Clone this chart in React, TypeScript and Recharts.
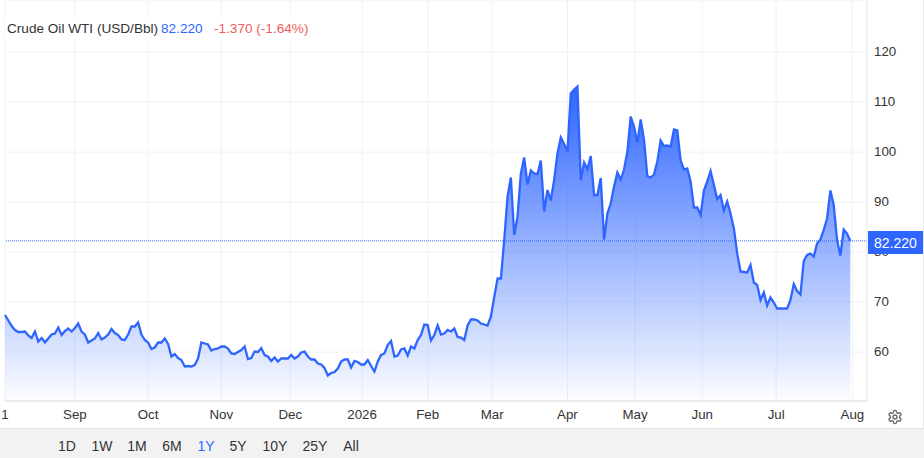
import React from "react";
import { ComposedChart, Area, XAxis, YAxis, CartesianGrid, ReferenceLine } from "recharts";

const prices2025 = [
  67.4,66.3,65.2,64.4,64.0,64.0,64.1,63.3,62.8,64.1,62.1,62.8,61.9,62.7,63.5,63.7,64.9,63.4,64.2,64.7,64.1,64.8,65.7,64.1,63.5,61.9,62.3,62.7,63.8,62.5,62.9,63.5,64.6,63.8,63.4,62.5,62.4,63.5,65.1,65.1,65.9,63.5,62.4,61.9,60.6,60.9,61.9,61.9,62.7,61.6,59.1,59.6,58.8,58.4,57.1,57.2,57.1,57.4,58.7,61.9,61.7,61.5,60.3,60.6,60.7,61.1,61.1,60.7,59.7,59.6,60.0,60.4,61.1,58.6,58.8,60.1,60.0,60.8,59.4,59.1,58.2,58.9,58.1,58.7,58.7,58.7,59.4,58.7,59.1,59.9,60.1,59.1,58.5,58.5,57.7,57.5,56.8,55.3,55.8,56.0,56.7,58.1,58.5,58.5,56.9,58.2,58.0,57.5,57.5,58.4,57.2,56.1,
];
const pricesEarly2026 = [
  58.1,59.4,59.7,61.4,62.2,59.1,59.3,60.5,60.7,59.3,61.1,60.7,62.4,63.4,65.5,65.4,62.3,63.4,65.3,63.5,63.7,64.4,64.1,64.7,63.0,62.9,62.4,65.3,66.5,66.5,66.3,65.7,65.5,65.3,67.1,71.0,74.7,74.7,
];
const pricesSpring2026 = [
  82.4,91.1,94.9,83.4,87.1,95.7,98.9,93.5,96.3,95.7,95.6,98.3,88.1,92.4,90.3,94.4,99.7,102.9,101.6,100.1,111.7,112.5,113.1,94.4,97.9,96.6,99.2,91.4,91.4,94.8,82.5,87.7,89.7,93.1,95.9,94.5,96.5,100.1,107.1,105.1,101.9,106.5,102.4,95.2,94.9,95.5,98.1,102.3,101.2,101.3,101.1,104.5,104.3,98.3,96.5,96.7,
];
const pricesSummer2026 = [
  94.1,88.9,88.9,87.4,92.3,94.1,96.2,93.4,90.6,91.4,88.3,90.1,87.7,84.7,79.7,76.1,76.0,75.9,77.4,73.9,73.4,70.4,71.9,69.3,70.9,69.9,68.7,68.7,68.7,68.7,70.4,73.6,72.2,71.5,78.2,79.4,79.7,79.1,81.7,82.5,84.4,86.7,92.3,89.4,82.4,79.3,84.5,83.7,82.22,
];
const prices = [...prices2025, ...pricesEarly2026, ...pricesSpring2026, ...pricesSummer2026];
const tableData = prices.map((price, i) => ({ i, price }));

const xTickLabels = ["1", "Sep", "Oct", "Nov", "Dec", "2026", "Feb", "Mar", "Apr", "May", "Jun", "Jul", "Aug"];
const xTickIndex = [0, 21, 43, 65, 85.7, 107.3, 127, 146.4, 169, 189.3, 209.5, 231.7, 254.6];
const yTicks = [60, 70, 80, 90, 100, 110, 120];
const ranges = ["1D", "1W", "1M", "6M", "1Y", "5Y", "10Y", "25Y", "All"];
const rangeCenters = [67, 102, 137, 172, 206, 238, 275, 315, 351];
const lastPrice = 82.22;

const FONT = '"Liberation Sans", Arial, sans-serif';
const BLUE = "#2e65ff";

export default function App() {
  return (
    <div style={{ position: "absolute", left: 0, top: 0, width: 924, height: 458, background: "#fff", overflow: "hidden", fontFamily: FONT }}>
      <ComposedChart
        width={924}
        height={458}
        data={tableData}
        margin={{ top: 0, right: 0, bottom: 30, left: 5 }}
      >
        <defs>
          <linearGradient id="oilFill" x1="0" y1="0" x2="0" y2="1">
            <stop offset="0%" stopColor={BLUE} stopOpacity={1} />
            <stop offset="100%" stopColor={BLUE} stopOpacity={0.01} />
          </linearGradient>
        </defs>
        <CartesianGrid stroke="#eff2f4" />
        <XAxis
          dataKey="i"
          type="number"
          domain={[0, 259]}
          ticks={xTickIndex}
          interval={0}
          tickFormatter={(v: number) => xTickLabels[xTickIndex.indexOf(v)]}
          height={27}
          tickLine={false}
          axisLine={{ stroke: "#eaeaea", strokeWidth: 2 }}
          tick={{ fill: "#333", fontSize: 13.3, fontFamily: FONT, dy: 3 }}
          tickMargin={0}
        />
        <YAxis
          orientation="right"
          domain={[50.2, 130.4]}
          ticks={yTicks}
          interval={0}
          width={57}
          tickLine={false}
          axisLine={{ stroke: "#e8e8e8" }}
          tick={{ fill: "#333", fontSize: 13.3, fontFamily: FONT, dx: -1, dy: -1 }}
        />
        <Area
          dataKey="price"
          type="linear"
          stroke={BLUE}
          strokeWidth={2.3}
          fill="url(#oilFill)"
          fillOpacity={1}
          dot={false}
          activeDot={false}
          isAnimationActive={false}
        />
        <ReferenceLine y={lastPrice} stroke={BLUE} strokeWidth={1} strokeDasharray="1 1" />
      </ComposedChart>

      <div style={{ position: "absolute", left: 868, top: 231, width: 55, height: 23, background: BLUE, color: "#fff", fontSize: 14, lineHeight: "24px", textAlign: "center" }}>
        82.220
      </div>

      <div style={{ position: "absolute", left: 5, top: 17, height: 24, width: 305, background: "#fff", fontSize: 13.6, lineHeight: "24px", whiteSpace: "pre" }}>
        <span style={{ position: "absolute", left: 2, color: "#333" }}>Crude Oil WTI (USD/Bbl)</span>
        <span style={{ position: "absolute", left: 156, color: BLUE }}>82.220</span>
        <span style={{ position: "absolute", left: 209, color: "#f25c5c" }}>-1.370 (-1.64%)</span>
      </div>

      <div style={{ position: "absolute", left: 923, top: 0, width: 1, height: 428, background: "#e8e8e8" }} />
      <div style={{ position: "absolute", left: 0, top: 428, width: 924, height: 30, background: "#f2f2f2", borderTop: "1px solid #e4e4e4", boxSizing: "border-box" }}>
        {ranges.map((r, k) => (
          <span key={r} style={{ position: "absolute", left: rangeCenters[k] - 20, width: 40, textAlign: "center", top: 8, fontSize: 14, lineHeight: "18px", color: r === "1Y" ? BLUE : "#333" }}>
            {r}
          </span>
        ))}
      </div>

      <svg style={{ position: "absolute", left: 887, top: 409 }} width={16} height={16} viewBox="0 0 24 24" fill="none" stroke="#666" strokeWidth={2}>
        <path d="M12.22 2h-.44a2 2 0 0 0-2 2v.18a2 2 0 0 1-1 1.73l-.43.25a2 2 0 0 1-2 0l-.15-.08a2 2 0 0 0-2.73.73l-.22.38a2 2 0 0 0 .73 2.73l.15.1a2 2 0 0 1 1 1.72v.51a2 2 0 0 1-1 1.74l-.15.09a2 2 0 0 0-.73 2.73l.22.38a2 2 0 0 0 2.73.73l.15-.08a2 2 0 0 1 2 0l.43.25a2 2 0 0 1 1 1.73V20a2 2 0 0 0 2 2h.44a2 2 0 0 0 2-2v-.18a2 2 0 0 1 1-1.73l.43-.25a2 2 0 0 1 2 0l.15.08a2 2 0 0 0 2.73-.73l.22-.39a2 2 0 0 0-.73-2.73l-.15-.08a2 2 0 0 1-1-1.74v-.5a2 2 0 0 1 1-1.74l.15-.09a2 2 0 0 0 .73-2.73l-.22-.38a2 2 0 0 0-2.73-.73l-.15.08a2 2 0 0 1-2 0l-.43-.25a2 2 0 0 1-1-1.73V4a2 2 0 0 0-2-2z" />
        <circle cx="12" cy="12" r="3" />
      </svg>
    </div>
  );
}
